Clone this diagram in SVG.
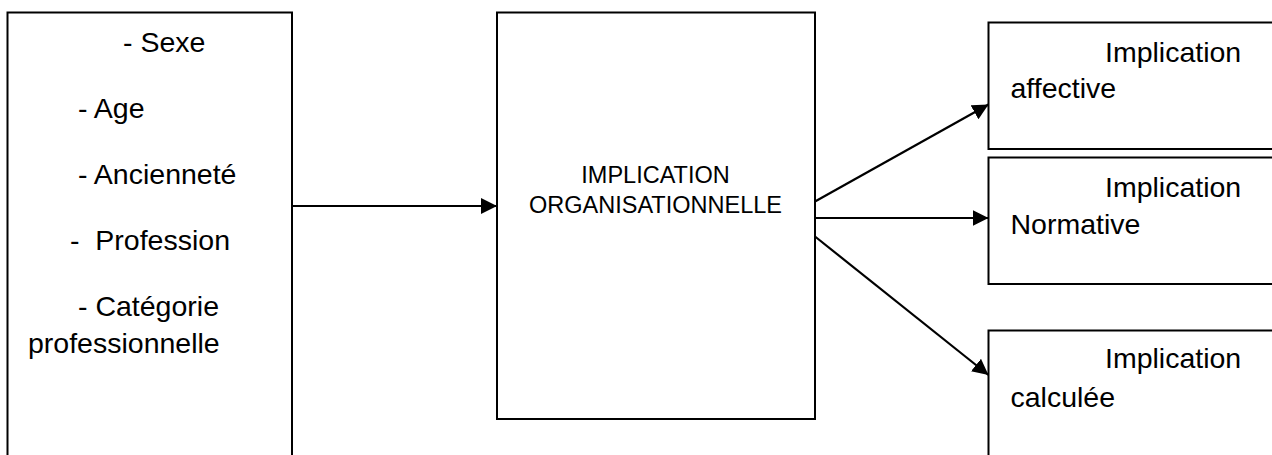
<svg xmlns="http://www.w3.org/2000/svg" width="1272" height="455" viewBox="0 0 1272 455">
<style>
.box{fill:#fff;stroke:#000;stroke-width:2}
.t{font-family:"Liberation Sans",Arial,sans-serif;font-size:28.5px;fill:#000}
.m{font-family:"Liberation Sans",Arial,sans-serif;font-size:23.5px;fill:#000;text-anchor:middle}
.c{stroke:#000;stroke-width:2.2;fill:none;marker-end:url(#ah)}
</style>
<defs>
<marker id="ah" markerUnits="userSpaceOnUse" markerWidth="17" markerHeight="16" refX="16" refY="8" orient="auto">
<path d="M0,0 L16,8 L0,16 Z" fill="#000"/>
</marker>
</defs>
<g id="node-facteurs">
<rect class="box" x="7.5" y="12.5" width="284.5" height="460"/>
<text class="t" x="123" y="51.5">- Sexe</text>
<text class="t" x="78" y="118">- Age</text>
<text class="t" x="78" y="184">- Ancienneté</text>
<text class="t" x="70" y="250" xml:space="preserve">-  Profession</text>
<text class="t" x="78" y="316">- Catégorie</text>
<text class="t" x="28" y="353">professionnelle</text>
</g>
<g id="node-implication">
<rect class="box" x="497" y="12.5" width="318" height="406.5"/>
<text class="m" x="655.5" y="182.5">IMPLICATION</text>
<text class="m" x="655.5" y="213">ORGANISATIONNELLE</text>
</g>
<g id="node-affective">
<rect class="box" x="988.5" y="22.5" width="300" height="126.5"/>
<text class="t" x="1105" y="61.5">Implication</text>
<text class="t" x="1010.5" y="98">affective</text>
</g>
<g id="node-normative">
<rect class="box" x="988.5" y="157.5" width="300" height="126.5"/>
<text class="t" x="1105" y="196.5">Implication</text>
<text class="t" x="1010.5" y="234">Normative</text>
</g>
<g id="node-calculee">
<rect class="box" x="988.5" y="330.5" width="300" height="140"/>
<text class="t" x="1105" y="368">Implication</text>
<text class="t" x="1010.5" y="406.5">calculée</text>
</g>
<g id="connectors">
<line class="c" x1="292" y1="206" x2="497" y2="206"/>
<line class="c" x1="815" y1="201.5" x2="988.5" y2="104.5"/>
<line class="c" x1="815" y1="218" x2="988.5" y2="218"/>
<line class="c" x1="815" y1="236.5" x2="988.5" y2="375"/>
</g>
</svg>
